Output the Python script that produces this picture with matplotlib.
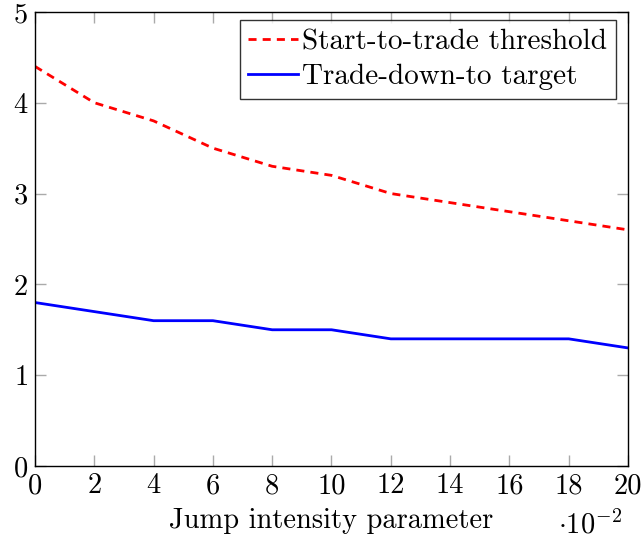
import numpy as np
import matplotlib.pyplot as plt
from matplotlib.ticker import FuncFormatter

plt.rcParams['font.family'] = 'serif'
plt.rcParams['font.serif'] = ['cmr10']
plt.rcParams['mathtext.fontset'] = 'cm'
plt.rcParams['axes.formatter.use_mathtext'] = True

# jump intensity (x) and the two boundaries
jump_intensity = [0.00, 0.02, 0.04, 0.06, 0.08, 0.10, 0.12, 0.14, 0.16, 0.18, 0.20]
start_threshold = [4.4, 4.0, 3.8, 3.5, 3.3, 3.2, 3.0, 2.9, 2.8, 2.7, 2.6]
trade_down_target = [1.8, 1.7, 1.6, 1.6, 1.5, 1.5, 1.4, 1.4, 1.4, 1.4, 1.3]

x_ticks = [0.00, 0.02, 0.04, 0.06, 0.08, 0.10, 0.12, 0.14, 0.16, 0.18, 0.20]
y_ticks = [0, 1, 2, 3, 4, 5]

FS = 20.5

fig = plt.figure(figsize=(6.44, 5.43), dpi=100)
ax = fig.add_axes([0.0543, 0.1418, 0.9209, 0.8363])

ax.plot(jump_intensity, start_threshold, color='red', linestyle=(0, (2.9, 2.2)),
        linewidth=2.0, label='Start-to-trade threshold')
ax.plot(jump_intensity, trade_down_target, color='blue', linestyle='-',
        linewidth=2.0, label='Trade-down-to target')

ax.set_xlim(0, 0.2)
ax.set_ylim(0, 5)
ax.set_xticks(x_ticks)
ax.set_yticks(y_ticks)
ax.xaxis.set_major_formatter(FuncFormatter(lambda v, p: f'{v * 100:.0f}'))
ax.tick_params(direction='in', length=8, width=1.0, color='#aaaaaa',
               top=True, right=True, labelsize=FS, pad=5)
for s in ax.spines.values():
    s.set_linewidth(1.0)

ax.set_xlabel('Jump intensity parameter', fontsize=FS, labelpad=6)
ax.text(0.882, -0.13, r'$\cdot 10^{-2}$', transform=ax.transAxes, fontsize=FS,
        ha='left', va='center')

leg = ax.legend(loc='upper right', bbox_to_anchor=(0.98, 0.982), fontsize=21,
                frameon=True, fancybox=False, borderaxespad=0, handlelength=1.7,
                handletextpad=0.15, borderpad=0.3, labelspacing=0.3)
leg.get_frame().set_edgecolor('black')
leg.get_frame().set_linewidth(1.0)

fig.savefig('out.png', dpi=100)
